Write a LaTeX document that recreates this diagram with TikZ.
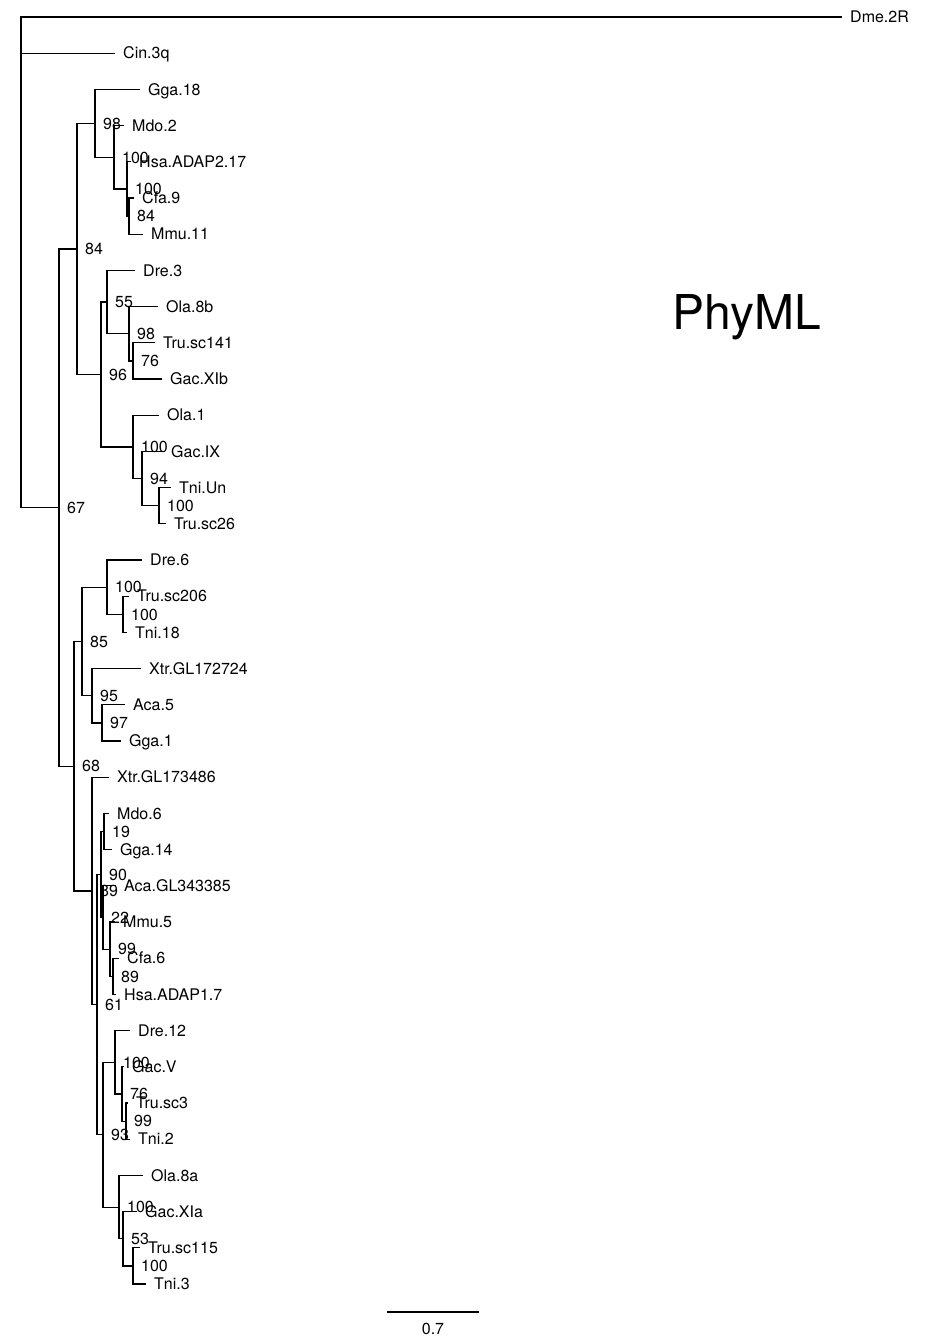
\documentclass[tikz,border=0pt]{standalone}
\usepackage{fontspec}
\setmainfont{TeX Gyre Heros}
\newcommand\lblfont{\fontsize{16}{16}\selectfont}

\tikzset{
  branch/.style={line width=1.2pt},
  leaf/.style={anchor=base west, inner sep=0pt, font=\lblfont, xshift=8pt, yshift=-5.7pt},
  boot/.style={anchor=base west, inner sep=0pt, font=\lblfont, xshift=8pt, yshift=-5.7pt},
}

\begin{document}
\begin{tikzpicture}[x=1pt,y=-1pt]
    \useasboundingbox (0,0) rectangle (928,1336);
    % tips
    \foreach \nm/\tx/\ty/\txt in {dme/842/17/Dme.2R, cin/115/53.2/Cin.3q,
        ggaA/140/89.4/Gga.18, mdoA/124/125.6/Mdo.2, hsaA/131/161.8/Hsa.ADAP2.17,
        cfaA/134/198/Cfa.9, mmuA/143/234.2/Mmu.11, dreA/135/270.4/Dre.3,
        olaA/158/306.6/Ola.8b, truA/155/342.8/Tru.sc141, gacA/162/379/Gac.XIb,
        olaB/159/415.2/Ola.1, gacB/163/451.4/Gac.IX, tniA/171/487.6/Tni.Un,
        truB/166/523.8/Tru.sc26, dreB/142/560/Dre.6, truC/129/596.2/Tru.sc206,
        tniB/127/632.4/Tni.18, xtrA/141/668.6/Xtr.GL172724, acaA/125/704.8/Aca.5,
        ggaB/121/741/Gga.1, xtrB/109/777.2/Xtr.GL173486, mdoB/109/813.4/Mdo.6,
        ggaC/112/849.6/Gga.14, acaB/116/885.8/Aca.GL343385, mmuB/115/922/Mmu.5,
        cfaB/119/958.2/Cfa.6, hsaB/116/994.4/Hsa.ADAP1.7, dreC/130/1030.6/Dre.12,
        gacC/124/1066.8/Gac.V, truD/128/1103/Tru.sc3, tniC/130/1139.2/Tni.2,
        olaC/143/1175.4/Ola.8a, gacD/137/1211.6/Gac.XIa, truE/140/1247.8/Tru.sc115,
        tniD/146/1284/Tni.3} {
        \coordinate (\nm) at (\tx,\ty);
        \node[leaf] (\nm-l) at (\nm) {\txt};
    }
    % inner nodes and support values
    \coordinate (root) at (21,262);
    \foreach \nm/\nx/\ny/\val in {n67/59/507.6/67, nA84/77/248.9/84,
        nA98/95/123.3/98, nA100/114/157.3/100, nB100/127/189/100, nB84/129/216.1/84,
        nA96/101/374.5/96, nA55/107/302/55, nB98/129/333.7/98, nA76/133/360.9/76,
        nC100/133/446.9/100, nA94/142/478.6/94, nD100/159/505.7/100,
        n68/74/766.2/68, nA85/82/641.5/85, nE100/107/587.2/100, nF100/123/614.3/100,
        nA95/92/695.8/95, nA97/102/722.9/97, nA89/92/890.9/89, nA61/97/1004.6/61,
        nA90/101/874.5/90, nA19/104/831.5/19, nA22/103/917.5/22, nA99/110/949.1/99,
        nB89/113/976.3/89, nA93/103/1134.7/93, nG100/115/1062.3/100,
        nB76/122/1094/76, nB99/126/1121.1/99, nH100/119/1207.1/100,
        nA53/123/1238.8/53, nI100/133/1265.9/100} {
        \coordinate (\nm) at (\nx,\ny);
        \node[boot] (\nm-b) at (\nm) {\val};
    }
    % branches
    \foreach \p/\c in {root/dme, root/cin, root/n67, n67/nA84, n67/n68,
        nA84/nA98, nA84/nA96, nA98/ggaA, nA98/nA100, nA100/mdoA, nA100/nB100,
        nB100/hsaA, nB100/nB84, nB84/cfaA, nB84/mmuA,
        nA96/nA55, nA96/nC100, nA55/dreA, nA55/nB98, nB98/olaA, nB98/nA76,
        nA76/truA, nA76/gacA, nC100/olaB, nC100/nA94, nA94/gacB, nA94/nD100,
        nD100/tniA, nD100/truB,
        n68/nA85, n68/nA89, nA85/nE100, nA85/nA95, nE100/dreB, nE100/nF100,
        nF100/truC, nF100/tniB, nA95/xtrA, nA95/nA97, nA97/acaA, nA97/ggaB,
        nA89/xtrB, nA89/nA61, nA61/nA90, nA61/nA93, nA90/nA19, nA90/nA22,
        nA19/mdoB, nA19/ggaC, nA22/acaB, nA22/nA99, nA99/mmuB, nA99/nB89,
        nB89/cfaB, nB89/hsaB, nA93/nG100, nA93/nH100, nG100/dreC, nG100/nB76,
        nB76/gacC, nB76/nB99, nB99/truD, nB99/tniC, nH100/olaC, nH100/nA53,
        nA53/gacD, nA53/nI100, nI100/truE, nI100/tniD}
        \draw[branch] (\p) |- (\c);
    % title and scale
    \node[anchor=base, inner sep=0pt, font=\fontsize{48}{48}\selectfont] (title) at (747,329) {PhyML};
    \coordinate (sbA) at (387,1312);
    \coordinate (sbB) at (479,1312);
    \draw[branch] (sbA) -- (sbB);
    \node[anchor=base, inner sep=0pt, font=\lblfont] (sbl) at (433,1334) {0.7};
\end{tikzpicture}
\end{document}
